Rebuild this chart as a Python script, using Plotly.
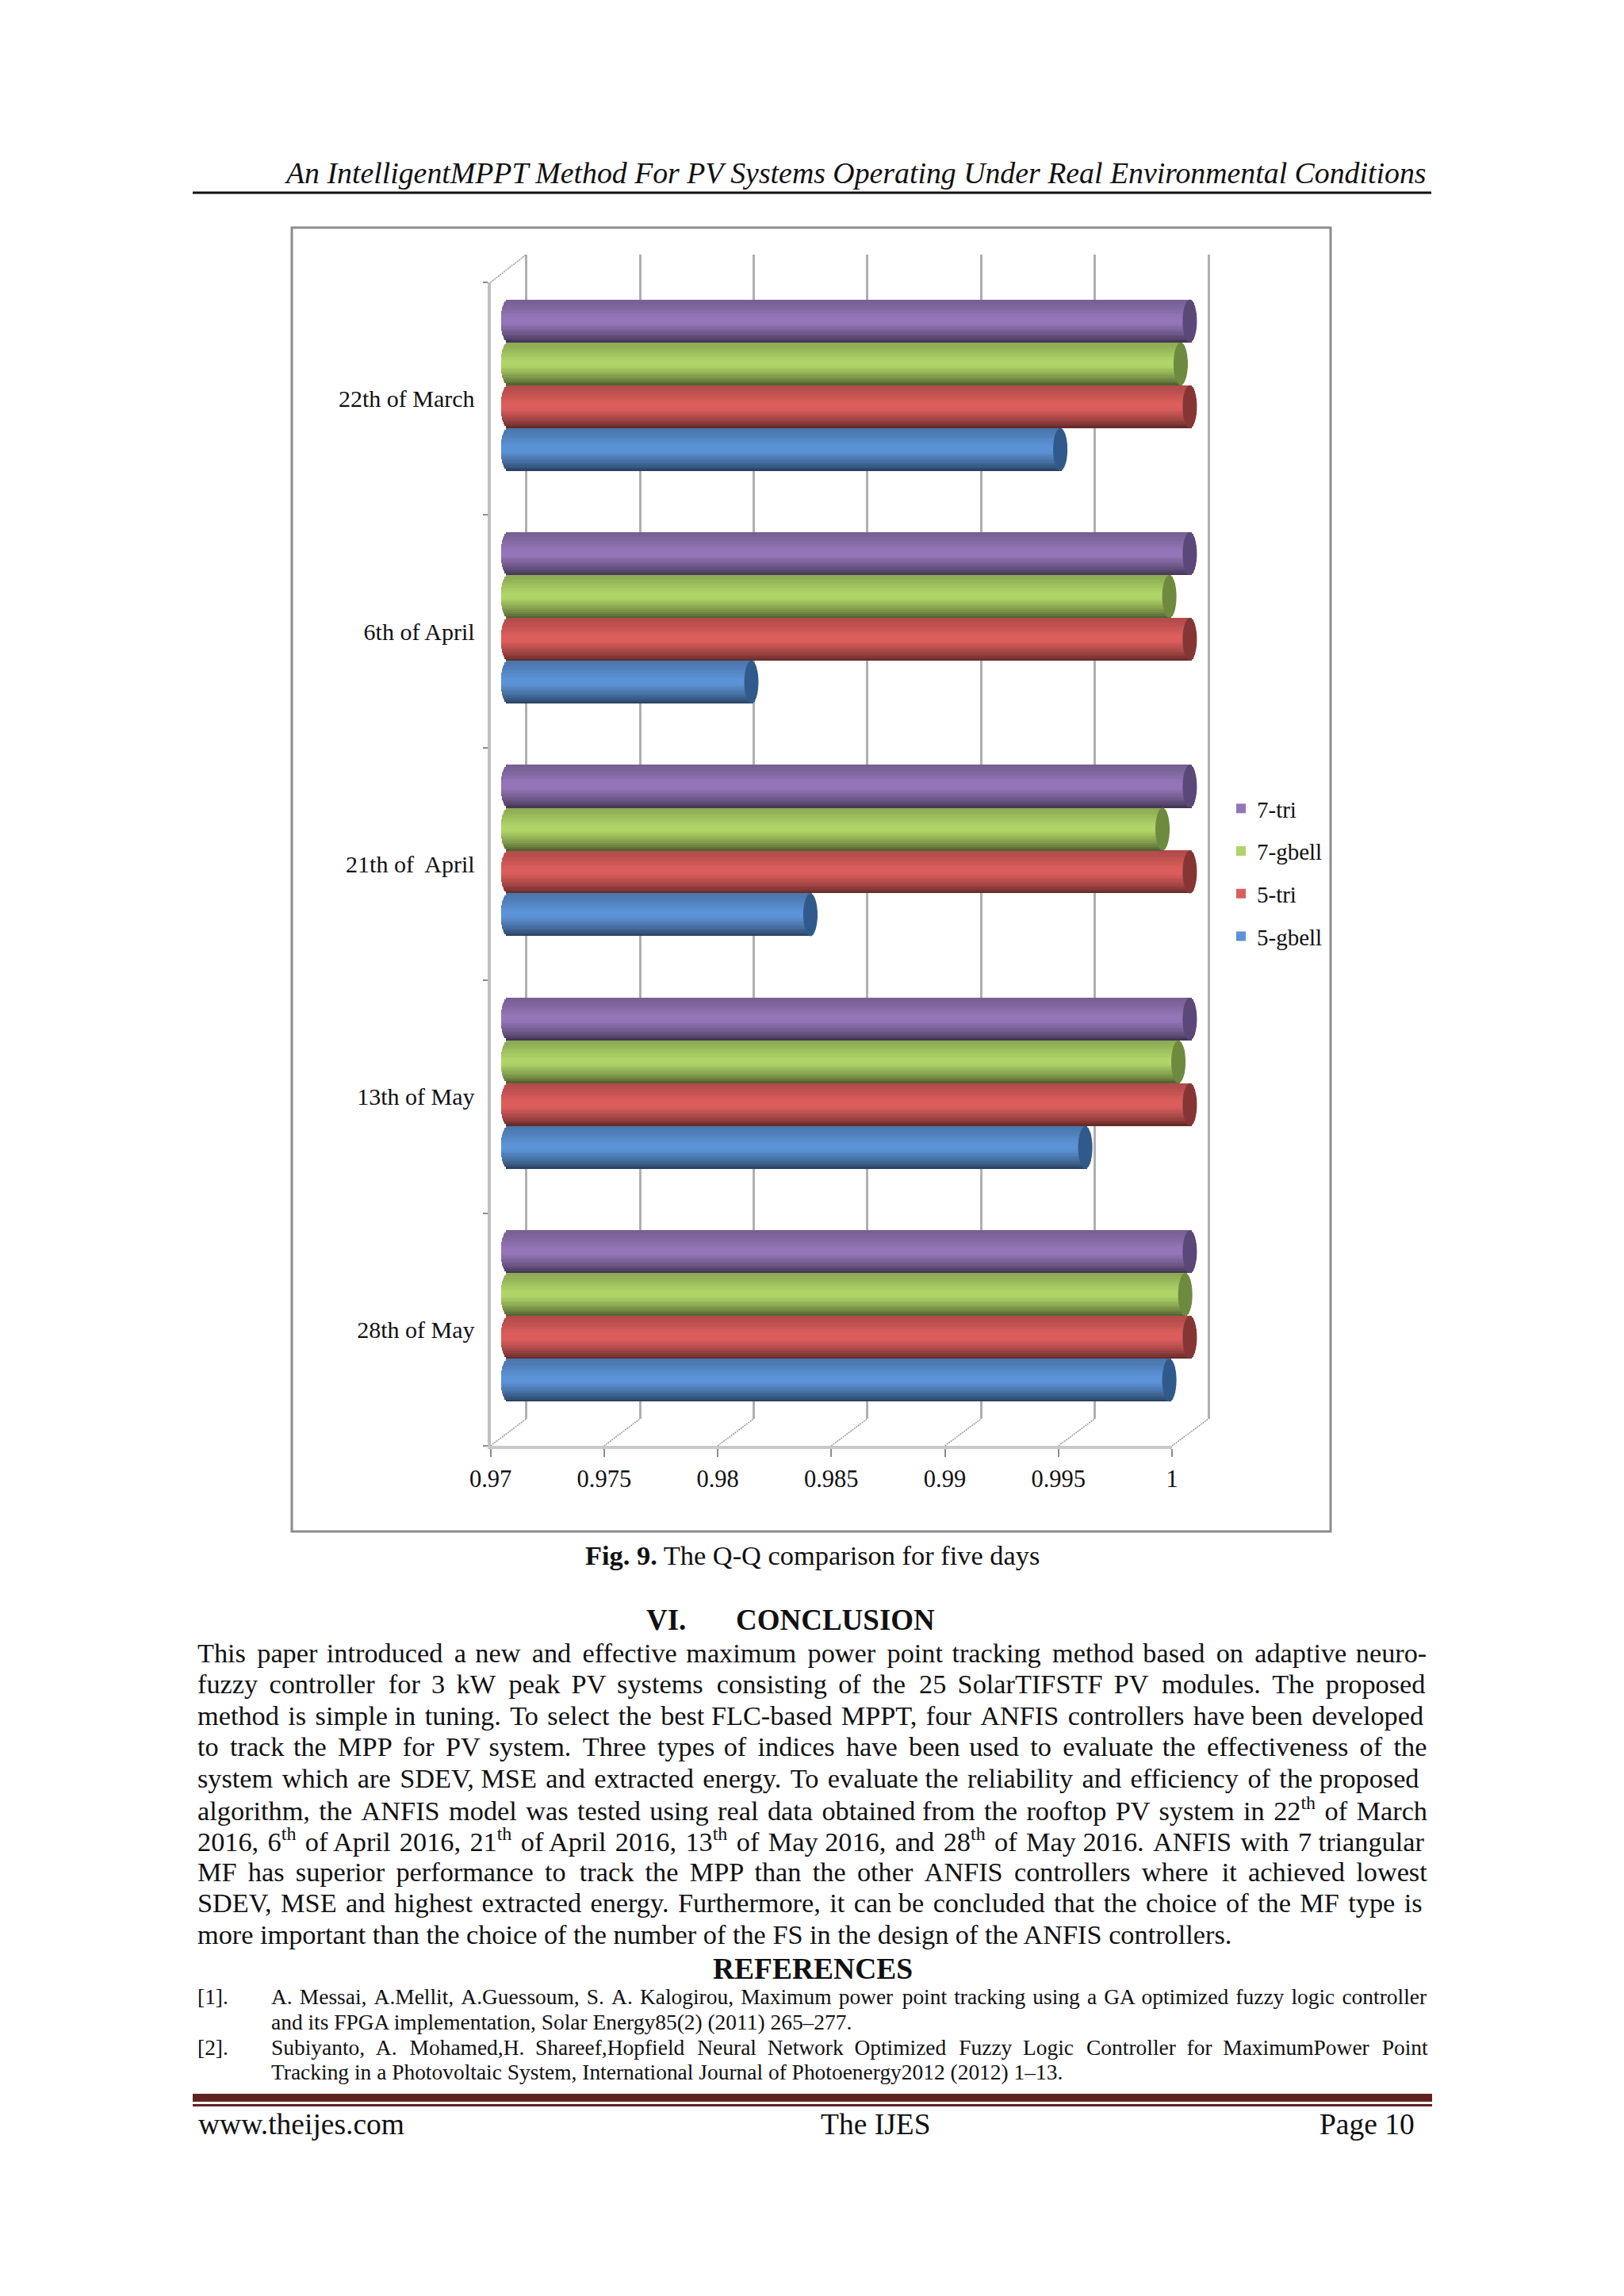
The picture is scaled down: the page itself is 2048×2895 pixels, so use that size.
import math
import re
import plotly.graph_objects as go

# ---------- data ----------
days = ["28th of May", "13th of May", "21th of  April", "6th of April", "22th of March"]
series_names = ["5-gbell", "5-tri", "7-gbell", "7-tri"]
gbell5 = [0.9991, 0.9954, 0.9833, 0.9807, 0.9943]
tri5 = [1.0, 1.0, 1.0, 1.0, 1.0]
gbell7 = [0.9998, 0.9995, 0.9988, 0.9991, 0.9996]
tri7 = [1.0, 1.0, 1.0, 1.0, 1.0]
series_values = [gbell5, tri5, gbell7, tri7]
base_colors = ["#5c93d6", "#dc5e5c", "#afd468", "#9476b8"]
cap_colors = ["#305a8c", "#853634", "#6e8a3e", "#5b4878"]
x_ticks = [0.97, 0.975, 0.98, 0.985, 0.99, 0.995, 1.0]

header = "An IntelligentMPPT Method For PV Systems Operating Under Real Environmental Conditions"
body_lines = [
    "This paper introduced a new and effective maximum power point tracking method based on adaptive neuro-",
    "fuzzy controller for 3 kW peak PV systems consisting of the 25 SolarTIFSTF PV modules. The proposed",
    "method is simple in tuning. To select the best FLC-based MPPT, four ANFIS controllers have been developed",
    "to track the MPP for PV system. Three types of indices have been used to evaluate the effectiveness of the",
    "system which are SDEV, MSE and extracted energy. To evaluate the reliability and efficiency of the proposed",
    "algorithm, the ANFIS model was tested using real data obtained from the rooftop PV system in 22<sup>th</sup> of March",
    "2016, 6<sup>th</sup> of April 2016, 21<sup>th</sup> of April 2016, 13<sup>th</sup> of May 2016, and 28<sup>th</sup> of May 2016. ANFIS with 7 triangular",
    "MF has superior performance to track the MPP than the other ANFIS controllers where it achieved lowest",
    "SDEV, MSE and highest extracted energy. Furthermore, it can be concluded that the choice of the MF type is",
    "more important than the choice of the number of the FS in the design of the ANFIS controllers.",
]
ref_lines = [
    ("[1].", "A. Messai, A.Mellit, A.Guessoum, S. A. Kalogirou, Maximum power point tracking using a GA optimized fuzzy logic controller", True),
    ("", "and its FPGA implementation, Solar Energy85(2) (2011) 265–277.", False),
    ("[2].", "Subiyanto, A. Mohamed,H. Shareef,Hopfield Neural Network Optimized Fuzzy Logic Controller for MaximumPower Point", True),
    ("", "Tracking in a Photovoltaic System, International Journal of Photoenergy2012 (2012) 1–13.", False),
]

# ---------- page geometry ----------
W, H = 2048, 2895
SERIF = "Liberation Serif"
def px(x): return x / W
def py(y): return 1 - y / H

# axis planes in page pixels
FRONT = (618.6, 1478.0)
BACK = (663.6, 1524.0)
FRONT_Y = (356.0, 1823.0)
BACK_Y = (321.0, 1789.0)
BAR_ORIGIN = 641.0
BAR_PER_UNIT = (FRONT[1] - FRONT[0]) / 0.03
BAR_RANGE = (0.969, 1.001)
BAR_DOM = tuple(BAR_ORIGIN + (v - 0.97) * BAR_PER_UNIT for v in BAR_RANGE)
BAR_Y = (339.0, 1806.0)
scale_f = (FRONT[1] - FRONT[0]) / 0.03
scale_b = (BACK[1] - BACK[0]) / 0.03
GRID_RANGE = (0.9695, 1.0005)
GRID_DOM = tuple(BACK[0] + (v - 0.97) * scale_b for v in GRID_RANGE)

# ---------- text metrics (Times widths) ----------
T = {" ":250,"!":333,"(":333,")":333,",":250,"-":333,".":250,"/":278,":":278,";":278,"[":333,"]":333,"–":500,
     "A":722,"B":667,"C":667,"D":722,"E":611,"F":556,"G":722,"H":722,"I":333,"J":389,"K":722,"L":611,"M":889,
     "N":722,"O":722,"P":556,"Q":722,"R":667,"S":556,"T":611,"U":722,"V":722,"W":944,"X":722,"Y":722,"Z":611,
     "a":444,"b":500,"c":444,"d":500,"e":444,"f":333,"g":500,"h":500,"i":278,"j":278,"k":500,"l":278,"m":778,
     "n":500,"o":500,"p":500,"q":500,"r":333,"s":389,"t":278,"u":500,"v":500,"w":722,"x":500,"y":500,"z":444}
def em(s):
    total = 0.0
    for part in re.split(r"(<sup>.*?</sup>)", s):
        if part.startswith("<sup>"):
            total += 0.7 * sum(T.get(c, 500) for c in part[5:-6]) / 1000
        else:
            total += sum(T.get(c, 500) for c in part) / 1000
    return total

HAIR = "\u200a"
HAIR_EM = 0.084
def justify(s, size, width):
    words = s.split(" ")
    gaps = len(words) - 1
    extra = (width - em(s) * size) / gaps
    out, err = words[0], 0.0
    unit = HAIR_EM * size
    for w in words[1:]:
        err += extra
        n = max(0, round(err / unit))
        err -= n * unit
        out += " " + HAIR * n + w
    return out

annotations = []
def put(text, x, y, size, anchor="left", color="#111111"):
    annotations.append(dict(text=text, x=px(x), y=py(y), xref="paper", yref="paper", showarrow=False,
                            xanchor=anchor, yanchor="middle", align="left",
                            font=dict(family=SERIF, size=size, color=color)))

put("<i>" + header + "</i>", 1801, 218, 37.8, "right")
put("<b>Fig. 9.</b> The Q-Q comparison for five days", 736, 1961, 34.4)
put("<b>VI.</b>", 813, 2042, 37)
put("<b>CONCLUSION</b>", 926, 2042, 37)

BODY_SIZE = 1307 / em(body_lines[-1])
for i, line in enumerate(body_lines):
    text = line if i == len(body_lines) - 1 else justify(line, BODY_SIZE, 1553)
    put(text, 247, 2084 + i * 39.4, BODY_SIZE)

put("<b>REFERENCES</b>", 1025, 2482, 37.5, "center")
REF_SIZE = 736 / em(ref_lines[1][1])
for i, (tag, line, just) in enumerate(ref_lines):
    y = 2518 + i * 31.8
    if tag:
        put(tag, 247, y, REF_SIZE)
    put(justify(line, REF_SIZE, 1460) if just else line, 340, y, REF_SIZE)

put("www.theijes.com", 248, 2678, 37.5)
put("The IJES", 1033, 2678, 37.5)
put("Page 10", 1662, 2678, 37.5)

# ---------- figure ----------
fig = go.Figure()

# invisible carriers so the back plane and the front axes have data
for xa, ya in (("x", "y"), ("x2", "y2")):
    fig.add_trace(go.Bar(y=days, x=gbell5, orientation="h", xaxis=xa, yaxis=ya, showlegend=False,
                         marker=dict(opacity=0), hoverinfo="skip"))

# cylinders: each series is drawn as thin bars shaded across its height
N_STRIPS = 22
SLOT = 0.184
CAP_DX = 9 / BAR_PER_UNIT
STOPS = [(0, 0.80), (0.12, 0.84), (0.42, 1.0), (0.55, 1.0), (0.80, 0.74), (0.93, 0.56), (1, 0.42)]

def shade(t):
    for (t0, v0), (t1, v1) in zip(STOPS, STOPS[1:]):
        if t <= t1:
            return v0 + (v1 - v0) * (t - t0) / (t1 - t0)
    return STOPS[-1][1]

def rgb(hexcolor, k):
    r, g, b = (int(hexcolor[i:i + 2], 16) for i in (1, 3, 5))
    return f"rgb({round(r*k)},{round(g*k)},{round(b*k)})"

shapes = []
for s, (name, vals) in enumerate(zip(series_names, series_values)):
    slot_start = (s - 2) * SLOT
    mid = N_STRIPS // 2
    for k in range(N_STRIPS):
        t = (k + 0.5) / N_STRIPS          # 0 = bottom of the bar
        u = 2 * t - 1
        bulge = CAP_DX * math.sqrt(max(0, 1 - u * u))
        bases = [0.97 - bulge] * len(vals)
        fig.add_trace(go.Bar(
            y=days, x=[v + bulge - b for v, b in zip(vals, bases)], base=bases, orientation="h",
            xaxis="x3", yaxis="y3", offset=slot_start + k * SLOT / N_STRIPS, width=SLOT / N_STRIPS * 1.06,
            marker=dict(color=rgb(base_colors[s], shade(1 - t)), line=dict(width=0)),
            name=name, legendgroup=name, legendrank=len(series_names) - s,
            showlegend=(k == mid), hoverinfo="skip"))
    for i, v in enumerate(vals):
        shapes.append(dict(type="circle", xref="x3", yref="y3", x0=v - CAP_DX, x1=v + CAP_DX,
                           y0=i + slot_start, y1=i + slot_start + SLOT, fillcolor=cap_colors[s],
                           line=dict(width=0), layer="above"))

def paper(kind, **kw):
    return dict(type=kind, xref="paper", yref="paper", **kw)

# page furniture
shapes += [
    paper("rect", x0=px(368), x1=px(1678), y0=py(287), y1=py(1931), line=dict(color="#8c8c8c", width=3), fillcolor="rgba(0,0,0,0)", layer="below"),
    paper("line", x0=px(243), x1=px(1805), y0=py(243), y1=py(243), line=dict(color="#111111", width=3)),
    paper("rect", x0=px(243), x1=px(1806), y0=py(2640), y1=py(2650), fillcolor="#5f2420", line=dict(width=0)),
    paper("rect", x0=px(243), x1=px(1806), y0=py(2653), y1=py(2656), fillcolor="#5f2420", line=dict(width=0)),
]
# depth lines of the chart floor and the top corner
for v in x_ticks:
    shapes.append(paper("line", x0=px(FRONT[0] + (v - 0.97) * scale_f), y0=py(FRONT_Y[1]),
                        x1=px(BACK[0] + (v - 0.97) * scale_b), y1=py(BACK_Y[1]),
                        line=dict(color="#9a9a9a", width=1.5, dash="2px,1px")))
shapes.append(paper("line", x0=px(FRONT[0]), y0=py(FRONT_Y[0]), x1=px(BACK[0]), y1=py(BACK_Y[0]),
                    line=dict(color="#9a9a9a", width=1.5, dash="2px,1px")))

def ydom(pair):
    return [1 - pair[1] / H, 1 - pair[0] / H]

cat_axis = dict(type="category", categoryorder="array", categoryarray=days, range=[-0.5, 4.5])
hidden_y = dict(showticklabels=False, ticks="", showgrid=False, showline=False, zeroline=False,
                tickmode="array", tickvals=[], ticktext=[])
fig.update_layout(
    width=W, height=H, margin=dict(l=0, r=0, t=0, b=0, autoexpand=False), autosize=False,
    paper_bgcolor="white", plot_bgcolor="rgba(0,0,0,0)", barmode="overlay", bargap=0,
    showlegend=True, annotations=annotations, shapes=shapes,
    legend=dict(x=px(1545), y=py(994), xanchor="left", yanchor="top", traceorder="grouped",
                tracegroupgap=13, bgcolor="rgba(0,0,0,0)", itemclick=False, itemdoubleclick=False,
                font=dict(family=SERIF, size=29, color="#111111")),
    # back plane with gridlines
    xaxis=dict(domain=[px(GRID_DOM[0]), px(GRID_DOM[1])], range=list(GRID_RANGE), tickmode="array", tickvals=x_ticks,
               showgrid=True, gridcolor="#b0b0b0", gridwidth=3, showticklabels=False, ticks="",
               zeroline=False, showline=False, anchor="y"),
    yaxis=dict(domain=ydom(BACK_Y), anchor="x", **hidden_y, **cat_axis),
    # front axes with labels
    xaxis2=dict(domain=[px(FRONT[0]), px(FRONT[1])], range=[0.97, 1.0], tickmode="array", tickvals=x_ticks,
                showgrid=False, showline=True, linecolor="#c8c8c8", linewidth=4, ticks="outside", ticklen=10,
                tickwidth=2, tickcolor="#8c8c8c", ticklabelstandoff=1, zeroline=False, anchor="y2",
                tickfont=dict(family=SERIF, size=30.5, color="#111111")),
    yaxis2=dict(domain=ydom(FRONT_Y), anchor="x2", showgrid=False, showline=True, linecolor="#c0c0c0",
                linewidth=4, ticks="outside", tickson="boundaries", ticklen=6, tickwidth=2, tickcolor="#8c8c8c",
                ticklabelstandoff=10, zeroline=False, tickfont=dict(family=SERIF, size=30, color="#111111"), **cat_axis),
    # cylinders, shifted half way into the depth of the chart
    xaxis3=dict(domain=[px(BAR_DOM[0]), px(BAR_DOM[1])], range=list(BAR_RANGE), visible=False, anchor="y3"),
    yaxis3=dict(domain=ydom(BAR_Y), anchor="x3", **hidden_y, **cat_axis),
)

fig.write_html("out.html", post_script="document.body.style.margin='0';", config={"displayModeBar": False})
